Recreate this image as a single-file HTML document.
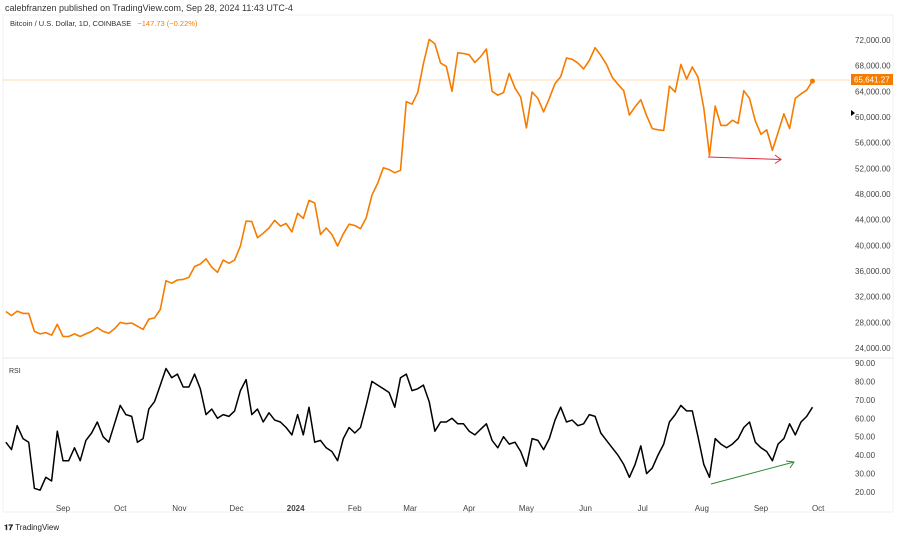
<!DOCTYPE html>
<html><head><meta charset="utf-8"><style>
body{margin:0;width:900px;height:536px;background:#fff;font-family:"Liberation Sans",sans-serif;overflow:hidden}
svg{display:block}
text{font-family:"Liberation Sans",sans-serif}
</style></head><body>
<svg id="c" width="900" height="536">
<text x="5" y="11" font-size="9" fill="#333">calebfranzen published on TradingView.com, Sep 28, 2024 11:43 UTC-4</text>
<rect x="3" y="15" width="890" height="497" fill="none" stroke="#f0f0f0"/>
<text x="10" y="26" font-size="7.5" fill="#333">Bitcoin / U.S. Dollar, 1D, COINBASE <tspan fill="#f57c00" dx="4">−147.73 (−0.22%)</tspan></text>
<line x1="3" y1="358" x2="893" y2="358" stroke="#e8e8e8"/>
<text x="9" y="373" font-size="7" fill="#333">RSI</text>
<g id="price-axis"></g><g id="rsi-axis"></g><g id="x-axis"></g>
<line x1="3" y1="80" x2="850" y2="80" stroke="#f57c00" stroke-opacity="0.3"/>
<path id="price" fill="none" stroke="#f57c00" stroke-width="1.6" stroke-linejoin="round"/>
<path id="rsi" fill="none" stroke="#000" stroke-width="1.5" stroke-linejoin="round"/>
<g stroke="#e0283c" stroke-width="1" fill="none"><line x1="708" y1="157" x2="781" y2="159.5"/><polyline points="775,155 781,159.5 775,163.5"/></g>
<g stroke="#2e8b2e" stroke-width="1" fill="none"><line x1="711" y1="484" x2="794" y2="462"/><polyline points="786,461 794,462 790,468"/></g>
<rect x="851" y="74" width="42" height="11" fill="#f57c00"/>
<text x="854" y="82.5" font-size="8" fill="#fff">65,641.27</text>
<polygon points="851,110 855,113 851,116" fill="#000"/>
<text x="4" y="530" font-size="8" fill="#222" font-weight="bold">𝟏𝟕 <tspan font-weight="normal">TradingView</tspan></text>
</svg>
<script>
const price=[29.7,29.05,29.75,29.4,29.4,26.6,26.2,26.4,26.0,27.7,
25.8,25.8,26.2,25.8,26.2,26.6,27.2,26.6,26.3,27.0,
28.0,27.8,27.9,27.4,26.9,28.5,28.7,30.0,34.5,34.1,34.6,
34.7,35.0,36.7,37.1,37.9,36.6,35.8,37.7,37.2,37.7,
39.9,43.8,43.7,41.2,41.9,42.7,43.9,43.0,43.4,42.1,
45.0,44.2,47.0,46.6,41.7,42.7,41.7,39.9,41.8,43.3,
43.1,42.6,44.3,47.8,49.7,52.1,51.8,51.3,51.7,62.4,
62.0,63.8,68.3,72.1,71.4,68.4,67.9,64.0,70.0,69.9,
69.7,68.5,69.4,70.6,64.0,63.4,63.8,66.8,64.5,63.1,
58.3,63.9,62.9,60.8,62.9,65.2,66.3,69.2,69.0,68.4,67.5,
68.8,70.8,69.6,68.2,66.2,65.1,64.1,60.3,61.6,62.7,
60.2,58.2,58.0,57.9,64.8,63.9,68.2,65.9,67.8,66.2,
61.4,54.0,61.7,58.7,58.7,59.5,59.0,64.1,62.9,59.4,
57.3,58.0,54.8,57.6,60.5,58.2,62.9,63.6,64.2,65.6];
const rsi=[47,43,56,49,47,22,21,28,26,53,37,37,44,37,48,52,58,50,47,57,
67,62,61,47,49,65,69,78,87,82,84,77,77,84,76,62,65,60,62,61,
64,75,81,62,65,58,63,59,58,55,51,62,51,66,47,48,44,42,37,49,
55,52,55,67,80,78,76,74,66,82,84,75,76,78,69,53,58,58,60,57,
57,53,51,54,57,48,44,50,46,47,42,34,49,48,43,49,59,66,58,59,
56,57,62,61,52,48,44,40,35,28,35,45,30,33,40,46,58,62,67,64,
64,50,35,28,49,46,44,46,49,55,58,47,44,42,37,46,49,57,51,58,61,66];
const priceTicks=[24000,28000,32000,36000,40000,44000,48000,52000,56000,60000,64000,68000,72000];
const rsiTicks=[20,30,40,50,60,70,80,90];
const monthLabels=["Sep","Oct","Nov","Dec","2024","Feb","Mar","Apr","May","Jun","Jul","Aug","Sep","Oct"];
const monthDays=[30,60,91,121,152,183,212,243,273,304,334,365,396,426];
const stepDays=3;
const xDay=d=>5.8+d*1.907;
const yPrice=v=>40+(72000-v)/4000*25.67;
const yRsi=v=>363+(90-v)/10*18.43;
const NS="http://www.w3.org/2000/svg";
function t(g,x,y,s,name,bold){const e=document.createElementNS(NS,"text");e.setAttribute("x",x);e.setAttribute("y",y);e.setAttribute("font-size","8");e.setAttribute("fill","#444");if(bold)e.setAttribute("font-weight","bold");e.textContent=s;


g.appendChild(e);return e;}
const fmt=v=>v.toLocaleString("en-US",{minimumFractionDigits:2,maximumFractionDigits:2});
const pa=document.getElementById("price-axis");
priceTicks.forEach(v=>t(pa,855,yPrice(v)+3,fmt(v),"price-tick-label"));
const ra=document.getElementById("rsi-axis");
rsiTicks.forEach(v=>t(ra,855,yRsi(v)+3,fmt(v),"rsi-tick-label"));
const xa=document.getElementById("x-axis");
monthLabels.forEach((m,i)=>{const e=t(xa,xDay(monthDays[i]),511,m,"x-tick-label",m==="2024");e.setAttribute("text-anchor","middle");});
document.getElementById("price").setAttribute("d",price.map((v,i)=>(i?"L":"M")+xDay(i*stepDays).toFixed(1)+","+yPrice(v*1000).toFixed(1)).join(""));
document.getElementById("rsi").setAttribute("d",rsi.map((v,i)=>(i?"L":"M")+xDay(i*stepDays).toFixed(1)+","+yRsi(v).toFixed(1)).join(""));
const last=price.length-1;
const dot=document.createElementNS(NS,"circle");dot.setAttribute("cx",xDay(last*stepDays));dot.setAttribute("cy",yPrice(price[last]*1000));dot.setAttribute("r","2.5");dot.setAttribute("fill","#f57c00");


document.getElementById("c").appendChild(dot);
</script>
</body></html>
